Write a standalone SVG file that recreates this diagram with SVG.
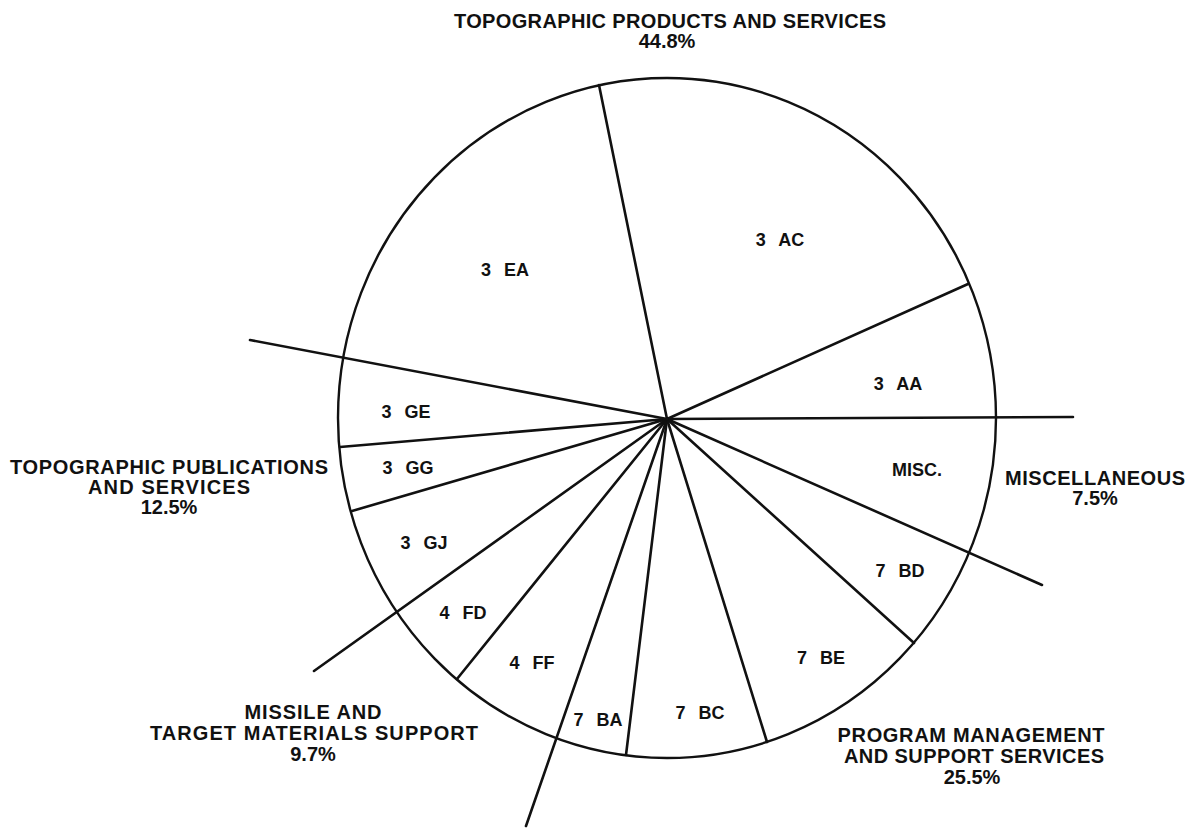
<svg xmlns="http://www.w3.org/2000/svg" width="1191" height="830" viewBox="0 0 1191 830">
<style>
.bg{fill:#ffffff}
.pie{fill:none;stroke:#111;stroke-width:2.4}
.ray{stroke:#111;stroke-width:2.6;stroke-linecap:round}
.lbl{font-family:"Liberation Sans",Arial,sans-serif;font-weight:bold;font-size:20px;fill:#111;text-anchor:middle}
.sl{font-family:"Liberation Sans",Arial,sans-serif;font-weight:bold;font-size:18px;fill:#111;text-anchor:middle;word-spacing:8px}
</style>
<rect class="bg" x="0" y="0" width="1191" height="830"/>
<g id="pie">
<ellipse class="pie" cx="667" cy="418" rx="329" ry="340"/>
</g>
<g id="connectors">
<line class="ray" x1="667" y1="419" x2="599" y2="85"/>
<line class="ray" x1="667" y1="419" x2="968" y2="284"/>
<line class="ray" x1="667" y1="419" x2="1073" y2="417"/>
<line class="ray" x1="667" y1="419" x2="1042" y2="585"/>
<line class="ray" x1="667" y1="419" x2="914" y2="643"/>
<line class="ray" x1="667" y1="419" x2="767" y2="742"/>
<line class="ray" x1="667" y1="419" x2="626" y2="755"/>
<line class="ray" x1="667" y1="419" x2="526" y2="826"/>
<line class="ray" x1="667" y1="419" x2="457" y2="679"/>
<line class="ray" x1="667" y1="419" x2="314" y2="671"/>
<line class="ray" x1="667" y1="419" x2="352" y2="511"/>
<line class="ray" x1="667" y1="419" x2="340" y2="447"/>
<line class="ray" x1="667" y1="419" x2="250" y2="340"/>
</g>
<g id="slice-3EA"><text class="sl" x="505" y="276">3 EA</text></g>
<g id="slice-3AC"><text class="sl" x="780" y="246">3 AC</text></g>
<g id="slice-3AA"><text class="sl" x="898" y="390">3 AA</text></g>
<g id="slice-3GE"><text class="sl" x="406" y="418">3 GE</text></g>
<g id="slice-3GG"><text class="sl" x="408" y="474">3 GG</text></g>
<g id="slice-3GJ"><text class="sl" x="424" y="549">3 GJ</text></g>
<g id="slice-4FD"><text class="sl" x="463" y="619">4 FD</text></g>
<g id="slice-4FF"><text class="sl" x="532" y="669">4 FF</text></g>
<g id="slice-7BA"><text class="sl" x="598" y="726">7 BA</text></g>
<g id="slice-7BC"><text class="sl" x="700" y="719">7 BC</text></g>
<g id="slice-7BE"><text class="sl" x="821" y="664">7 BE</text></g>
<g id="slice-7BD"><text class="sl" x="900" y="577">7 BD</text></g>
<g id="slice-MISC"><text class="sl" x="917" y="476">MISC.</text></g>
<g id="label-topo-products">
<text class="lbl" x="670" y="28" textLength="432">TOPOGRAPHIC PRODUCTS AND SERVICES</text>
<text class="lbl" x="667" y="48">44.8%</text>
</g>
<g id="label-topo-publications">
<text class="lbl" x="169" y="474" textLength="318">TOPOGRAPHIC PUBLICATIONS</text>
<text class="lbl" x="169" y="494" textLength="162">AND SERVICES</text>
<text class="lbl" x="169" y="514">12.5%</text>
</g>
<g id="label-missile">
<text class="lbl" x="313" y="719" textLength="137">MISSILE AND</text>
<text class="lbl" x="314" y="740" textLength="328">TARGET MATERIALS SUPPORT</text>
<text class="lbl" x="313" y="761">9.7%</text>
</g>
<g id="label-misc">
<text class="lbl" x="1095" y="485" textLength="180">MISCELLANEOUS</text>
<text class="lbl" x="1095" y="505">7.5%</text>
</g>
<g id="label-program">
<text class="lbl" x="971" y="742" textLength="267">PROGRAM MANAGEMENT</text>
<text class="lbl" x="974" y="763" textLength="260">AND SUPPORT SERVICES</text>
<text class="lbl" x="972" y="784">25.5%</text>
</g>
</svg>
